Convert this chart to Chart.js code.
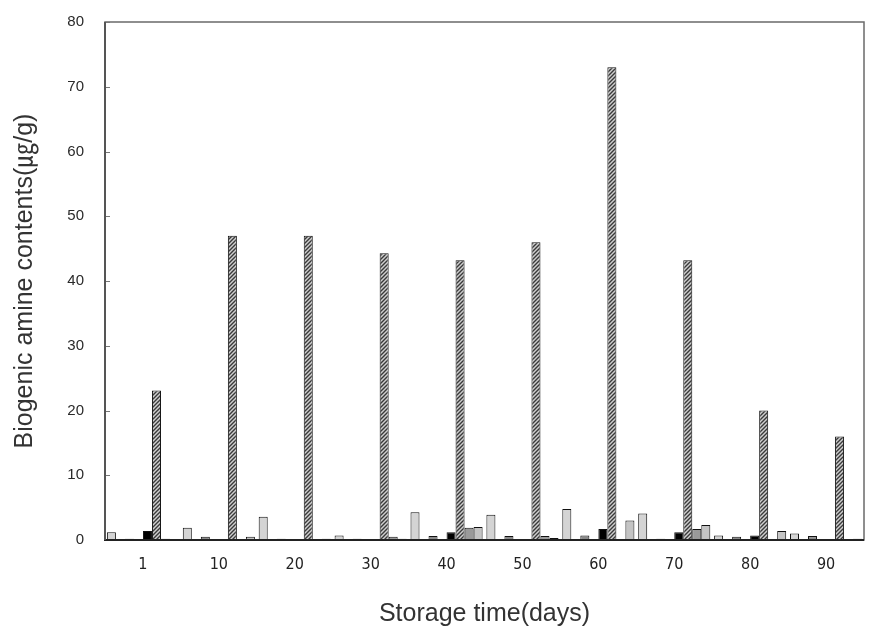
<!DOCTYPE html>
<html>
<head>
<meta charset="utf-8">
<script src="https://cdn.jsdelivr.net/npm/chart.js@4/dist/chart.umd.min.js"></script>
<style>
  html, body { margin: 0; padding: 0; background: #ffffff; }
  canvas { display: block; }
</style>
</head>
<body>
<canvas id="c" width="871" height="637"></canvas>
<script>
// ---- data ----
const storageDays = ['1', '10', '20', '30', '40', '50', '60', '70', '80', '90'];
const yTicks = [0, 10, 20, 30, 40, 50, 60, 70, 80];

const amineLightGray = [1.2, 1.9, 3.6, 0.7, 4.3, 3.9, 4.8, 4.1, 0.7, 1.0];
const amineSlot2     = [null, null, null, null, null, null, null, null, null, null];
const amineSmall     = [0.2, 0.5, 0.2, 0.2, 0.6, 0.6, 0.7, 0.2, 0.5, 0.6];
const amineSlot4     = [null, null, null, null, null, null, null, null, null, null];
const amineBlack     = [1.4, 0, 0, 0, 1.2, 0, 1.7, 1.2, 0.7, 0];
const amineHatched   = [23.1, 47.0, 47.0, 44.3, 43.2, 46.0, 73.0, 43.2, 20.0, 16.0];
const amineGray      = [0.2, 0, 0, 0.5, 1.9, 0.6, 0, 1.7, 0, 0];
const amineLight     = [0.1, 0.5, 0.2, 0.2, 2.0, 0.3, 3.0, 2.3, 1.4, 0.2];

// ---- hatch pattern ----
function makeHatch() {
  const p = document.createElement('canvas');
  p.width = 4; p.height = 4;
  const g = p.getContext('2d');
  g.fillStyle = '#cfcfcf';
  g.fillRect(0, 0, 4, 4);
  g.strokeStyle = '#3a3a3a';
  g.lineWidth = 1.4;
  g.beginPath();
  g.moveTo(-1, 5); g.lineTo(5, -1);
  g.moveTo(-1, 1); g.lineTo(1, -1);
  g.moveTo(3, 5); g.lineTo(5, 3);
  g.stroke();
  return g.createPattern(p, 'repeat');
}
const hatch = makeHatch();

const frame = {
  id: 'frame',
  afterDatasetsDraw(chart) {
    const { ctx, chartArea: a, scales } = chart;
    ctx.save();
    ctx.strokeStyle = '#6a6a6a';
    ctx.lineWidth = 1.5;
    ctx.strokeRect(a.left, a.top, a.right - a.left, a.bottom - a.top);
    ctx.lineWidth = 1;
    ctx.strokeStyle = '#777';
    scales.y.ticks.forEach(t => {
      const y = Math.round(scales.y.getPixelForValue(t.value)) + 0.5;
      ctx.beginPath();
      ctx.moveTo(a.left, y);
      ctx.lineTo(a.left + 5, y);
      ctx.stroke();
    });
    ctx.strokeStyle = '#222';
    ctx.lineWidth = 2;
    ctx.beginPath();
    ctx.moveTo(a.left - 1, a.bottom);
    ctx.lineTo(a.right, a.bottom);
    ctx.stroke();
    ctx.strokeStyle = '#555';
    ctx.beginPath();
    ctx.moveTo(a.left, a.top);
    ctx.lineTo(a.left, a.bottom);
    ctx.stroke();
    ctx.restore();
  }
};

function ds(data, fill) {
  return { data, backgroundColor: fill, borderColor: '#111', borderWidth: 1, borderSkipped: 'start' };
}

new Chart(document.getElementById('c'), {
  type: 'bar',
  data: {
    labels: storageDays,
    datasets: [
      ds(amineLightGray, '#d4d4d4'),
      ds(amineSlot2, '#ffffff'),
      ds(amineSmall, '#8a8a8a'),
      ds(amineSlot4, '#ffffff'),
      ds(amineBlack, '#000000'),
      ds(amineHatched, hatch),
      ds(amineGray, '#9a9a9a'),
      ds(amineLight, '#c4c4c4')
    ]
  },
  options: {
    responsive: false,
    animation: false,
    devicePixelRatio: 1,
    layout: { padding: { left: 0, right: 7, top: 16, bottom: 0 } },
    plugins: { legend: { display: false }, tooltip: { enabled: false } },
    datasets: { bar: { categoryPercentage: 0.95, barPercentage: 1.0 } },
    scales: {
      x: {
        grid: { display: false },
        border: { display: false },
        ticks: { color: '#222', padding: 7, font: { family: '"Liberation Sans Narrow", "DejaVu Sans Condensed", "Liberation Sans"', size: 16 } },
        title: {
          display: true, text: 'Storage time(days)', color: '#333',
          font: { family: '"Liberation Sans", Arial, sans-serif', size: 25 },
          padding: { top: 0, bottom: 8 }
        },
        afterFit(s) { s.height = 97; }
      },
      y: {
        min: 0, max: 80,
        afterBuildTicks(s) { s.ticks = yTicks.map(v => ({ value: v })); },
        grid: { display: false },
        border: { display: false },
        ticks: { color: '#2a2a2a', padding: 13, font: { family: '"Liberation Sans Narrow", "Liberation Sans", Arial, sans-serif', size: 15 } },
        title: {
          display: true, text: 'Biogenic amine contents(㎍/g)', color: '#333',
          font: { family: '"Liberation Sans", Arial, "Noto Sans CJK KR", sans-serif', size: 25 },
          padding: { top: 10, bottom: 0 }
        },
        afterFit(s) { s.width = 105; }
      }
    }
  },
  plugins: [frame]
});
</script>
</body>
</html>
